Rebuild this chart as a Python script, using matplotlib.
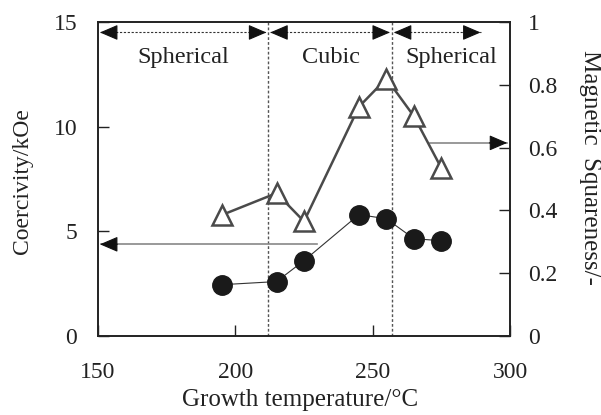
import numpy as np
import matplotlib.pyplot as plt

plt.rcParams['font.family'] = ['Liberation Serif', 'DejaVu Serif']

# growth temperature (C)
temp = [195, 215, 225, 245, 255, 265, 275]
# coercivity (kOe), filled circles
coercivity = [2.45, 2.6, 3.6, 5.8, 5.6, 4.65, 4.55]
# magnetic squareness, open triangles
squareness = [0.385, 0.455, 0.365, 0.73, 0.82, 0.70, 0.535]

region_edges = [150, 212, 257, 290]
region_names = ['Spherical', 'Cubic', 'Spherical']
region_text_x = [181, 235, 278.5]

W, H = 601, 415
fig = plt.figure(figsize=(W / 100, H / 100), dpi=100)
ax = fig.add_axes([98 / W, 1 - 336 / H, 412 / W, 314 / H])
ax2 = ax.twinx()

ax.set_xlim(150, 300)
ax.set_ylim(0, 15)
ax2.set_ylim(0, 1)
ax.set_xticks([150, 200, 250, 300])
ax.set_yticks([0, 5, 10, 15])
ax2.set_yticks([0, 0.2, 0.4, 0.6, 0.8, 1])
ax2.set_yticklabels(['0', '0.2', '0.4', '0.6', '0.8', '1'])

txt = '#222222'
for a in (ax, ax2):
    for s in a.spines.values():
        s.set_linewidth(1.2)
        s.set_color(txt)
ax.tick_params(axis='y', direction='in', length=8, width=1, labelsize=17, pad=15, colors=txt)
ax.tick_params(axis='x', direction='in', length=8, width=1, labelsize=17, pad=19, colors=txt)
ax2.tick_params(direction='in', length=8, width=1, labelsize=17, pad=13, colors=txt)

# phase boundaries
for xb in region_edges[1:3]:
    ax.axvline(xb, color='#555555', lw=1, ls=(0, (2, 1.5)))

# region arrows: dashed shaft, solid filled heads
head = dict(arrowstyle='-|>,head_length=0.7,head_width=0.3', color='#111111', lw=0.8,
            mutation_scale=16, shrinkA=0, shrinkB=0)
ya = 14.5
for i in range(3):
    x0 = region_edges[i] + 0.7
    x1 = region_edges[i + 1] - 0.7
    ax.plot([x0, x1], [ya, ya], color='#333333', lw=0.8, ls=(0, (2, 1.5)))
    ax.annotate('', xy=(x0, ya), xytext=(x0 + 6, ya), arrowprops=head)
    ax.annotate('', xy=(x1, ya), xytext=(x1 - 6, ya), arrowprops=head)
    ax.text(region_text_x[i], 13.3, region_names[i], ha='center', va='center', fontsize=17.5, color=txt)

# data
ax.plot(temp, coercivity, '-', color='#333333', lw=0.8, marker='o', ms=14,
        mfc='#1a1a1a', mec='#1a1a1a', zorder=3)
ax2.plot(temp, squareness, '-', color='#4a4a4a', lw=1.8, marker='^', ms=15,
         mfc='white', mec='#4a4a4a', mew=1.8, zorder=3)

# axis pointer arrows
ax.plot([151, 229.6], [4.38, 4.38], color='#888888', lw=1.2)
ax.annotate('', xy=(150.7, 4.38), xytext=(157, 4.38), arrowprops=head)
ax2.plot([271, 299], [0.615, 0.615], color='#888888', lw=1.2)
ax2.annotate('', xy=(299, 0.615), xytext=(292.5, 0.615), arrowprops=head)

fig.text(300 / W, 1 - 400 / H, 'Growth temperature/\u00b0C', fontsize=18, color=txt,
         ha='center', va='center')
fig.text(23 / W, 1 - 181 / H, 'Coercivity/kOe', fontsize=17, color=txt,
         ha='center', va='center', rotation=90)
fig.text(590 / W, 1 - 167 / H, 'Magnetic  Squareness/-', fontsize=18, color=txt,
         ha='center', va='center', rotation=-90)

fig.savefig('out.png', dpi=100)
